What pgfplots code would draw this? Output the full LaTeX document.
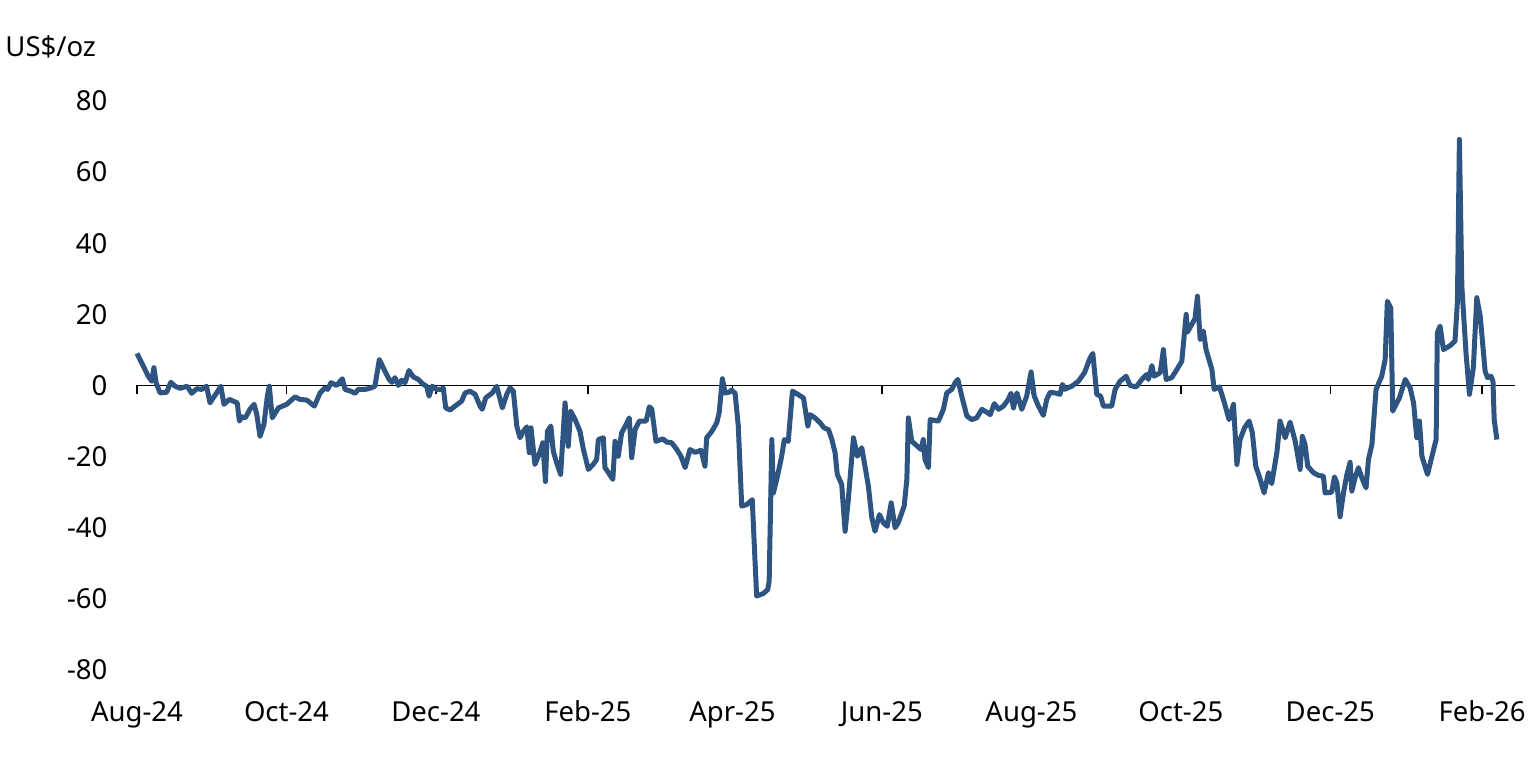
\documentclass[border=0pt]{standalone}
\usepackage{pgfplots}
\pgfplotsset{compat=1.18}
\usepackage{fontspec}
\setmainfont{Noto Sans}
\definecolor{lineblue}{RGB}{46,85,130}
\begin{document}
\fontsize{13.75}{16}\selectfont
\begin{tikzpicture}
\begin{axis}[
  at={(0,0)}, anchor=south west,
  scale only axis, width=689pt, height=284.5pt,
  xmin=0, xmax=562.4, ymin=-80, ymax=80,
  clip=false,
  axis line style={draw=none},
  major tick length=0pt,
  xtick={0,61,122,184,243,304,365,426,487,549},
  xticklabels={Aug-24,Oct-24,Dec-24,Feb-25,Apr-25,Jun-25,Aug-25,Oct-25,Dec-25,Feb-26},
  ytick={-80,-60,-40,-20,0,20,40,60,80},
  yticklabels={-80,-60,-40,-20,0,20,40,60,80},
  xticklabel style={anchor=base, yshift=-26pt, font=\fontsize{13.75}{16}\selectfont},
  yticklabel style={anchor=east, xshift=-10pt, font=\fontsize{13.75}{16}\selectfont},
  grid=none,
]
\draw[black, line width=0.75pt] (axis cs:0,0) -- (axis cs:562.4,0);
\pgfplotsinvokeforeach{0,61,122,184,243,304,365,426,487,549}{
  \draw[black, line width=0.75pt] (axis cs:#1,0) -- ++(0pt,-4.5pt);
}
\addplot[lineblue, line width=2.5pt, line join=round, no marks] coordinates {
(0,9.0) (2.6,5.4) (4.6,2.6) (6.0,1.2) (6.9,5.0) (7.8,0.8) (9.4,-2.1) (12.1,-1.9)
(13.8,0.9) (15.5,-0.2) (17.6,-0.8) (20.5,-0.2) (22.3,-2.2) (24.4,-0.9) (26.4,-1.1)
(28.4,-0.2) (29.8,-4.9) (30.9,-3.7) (32.5,-2.1) (34.2,-0.2) (35.5,-5.3) (37.7,-3.9)
(40.9,-4.9) (41.8,-10.0) (42.7,-8.8) (44.2,-9.1) (46.1,-6.7) (47.8,-5.3) (48.9,-8.2)
(50.2,-14.3) (51.8,-11.0) (53.2,-3.0) (54.0,-0.2) (55.2,-9.1) (57.7,-6.3) (61.1,-5.3)
(64.5,-3.2) (66.5,-3.9) (69.3,-4.1) (72.4,-5.8) (74.7,-2.1) (76.7,-0.7) (77.8,-1.1)
(79.2,0.8) (81.5,0.0) (83.8,1.9) (84.9,-1.1) (87.3,-1.6) (89.0,-2.2) (90.3,-1.1)
(93.1,-1.1) (95.5,-0.7) (97.1,-0.2) (98.9,7.3) (100.5,5.0) (102.9,1.7) (104.0,0.9)
(105.3,2.2) (106.7,0.0) (108.0,1.5) (109.4,0.8) (111.0,4.2) (112.8,2.4) (114.8,1.7)
(116.9,0.3) (118.2,-0.2) (119.2,-3.0) (120.5,-0.2) (122.3,-1.1) (124.1,-1.1) (125.0,-0.7)
(126.0,-6.3) (127.8,-6.9) (129.8,-5.8) (132.5,-4.4) (133.9,-2.1) (135.9,-1.6) (138.0,-2.5)
(140.0,-5.8) (140.9,-6.7) (142.3,-3.5) (145.0,-2.1) (146.8,-0.2) (148.2,-3.9) (149.1,-6.3)
(150.9,-2.5) (152.2,-0.7) (153.6,-1.6) (155.0,-11.4) (156.3,-14.7) (157.7,-12.9) (159.1,-11.6)
(160.1,-18.9) (160.8,-11.9) (162.4,-22.2) (163.8,-19.9) (165.2,-17.1) (165.6,-16.1) (166.7,-27.0)
(167.5,-12.9) (168.9,-11.4) (169.9,-18.5) (171.3,-21.8) (172.9,-25.0) (174.7,-4.9) (176.0,-17.1)
(177.0,-7.2) (178.8,-9.6) (180.8,-12.9) (182.2,-18.0) (184.2,-23.6) (186.2,-22.2) (187.6,-20.8)
(188.3,-15.2) (190.3,-14.7) (191.0,-23.1) (192.4,-24.5) (194.2,-26.4) (195.1,-15.7) (196.4,-19.9)
(197.8,-13.3) (199.6,-11.0) (200.9,-9.1) (201.9,-20.3) (203.3,-12.4) (205.0,-10.0) (207.8,-10.0)
(209.1,-6.0) (210.1,-6.7) (211.8,-15.7) (214.6,-15.0) (216.2,-15.9) (218.2,-16.1) (220.3,-18.0)
(222.0,-19.9) (223.7,-23.1) (225.7,-18.0) (227.8,-18.8) (230.2,-18.2) (231.8,-22.7) (232.5,-14.7)
(234.6,-12.9) (236.6,-10.5) (237.6,-7.7) (238.9,1.9) (240.0,-2.1) (241.6,-1.9) (242.7,-1.3)
(244.1,-2.2) (245.4,-11.4) (246.8,-33.9) (248.9,-33.5) (251.1,-32.1) (252.2,-48.9) (252.9,-59.2)
(255.6,-58.5) (257.4,-57.4) (258.0,-55.0) (259.1,-15.2) (259.7,-30.2) (261.1,-26.4) (263.1,-19.9)
(264.2,-15.2) (265.8,-15.7) (267.5,-1.6) (269.7,-2.5) (272.0,-3.5) (273.8,-11.4) (274.7,-8.2)
(276.7,-9.1) (278.8,-10.5) (280.4,-11.9) (282.2,-12.4) (283.6,-15.2) (284.9,-18.9) (285.8,-25.0)
(287.6,-27.8) (289.0,-41.0) (290.3,-32.1) (292.4,-14.7) (294.0,-19.9) (295.8,-17.5) (297.1,-22.7)
(298.5,-28.3) (299.9,-37.2) (301.2,-41.0) (303.0,-36.3) (304.6,-38.6) (306.2,-39.6) (307.8,-33.0)
(309.4,-40.0) (310.7,-38.6) (313.1,-33.9) (314.2,-26.4) (314.8,-9.1) (316.2,-15.7) (318.2,-16.9)
(320.0,-18.0) (320.9,-15.2) (321.6,-20.8) (323.0,-23.1) (323.7,-9.6) (327.1,-10.0) (329.1,-6.7)
(330.5,-2.1) (332.5,-1.1) (333.9,0.8) (335.0,1.7) (336.6,-3.0) (338.7,-8.6) (340.7,-9.6)
(342.7,-9.1) (344.8,-6.7) (346.8,-7.5) (348.2,-8.2) (349.9,-5.1) (351.6,-6.7) (353.6,-5.8)
(355.6,-3.9) (356.7,-2.2) (357.7,-6.3) (359.1,-2.1) (361.1,-6.7) (363.1,-3.0) (364.9,3.8)
(366.2,-3.0) (367.9,-5.8) (369.9,-8.4) (371.3,-3.9) (372.7,-1.9) (375.4,-2.2) (376.7,-2.5)
(377.7,0.3) (378.5,-1.1) (381.5,-0.2) (384.2,1.2) (386.7,3.6) (389.0,7.8) (390.1,9.0)
(391.7,-2.5) (393.3,-3.0) (394.4,-5.8) (397.8,-5.8) (399.2,-1.1) (401.2,1.2) (403.7,2.6)
(405.3,0.0) (407.8,-0.4) (410.1,1.7) (412.1,3.1) (412.8,1.7) (414.2,5.6) (415.1,2.6)
(417.6,3.6) (418.9,10.1) (420.0,1.7) (422.3,2.2) (424.4,4.5) (426.4,6.8) (428.2,20.0)
(428.7,15.0) (430.5,17.2) (431.8,18.8) (432.8,25.1) (433.9,12.9) (435.2,15.3) (436.3,10.1)
(438.7,4.5) (439.6,-1.1) (441.8,-0.4) (443.8,-4.9) (445.7,-9.6) (447.5,-5.3) (448.9,-22.2)
(450.2,-15.2) (452.0,-11.9) (453.9,-10.0) (455.2,-13.3) (456.6,-22.7) (458.4,-26.4) (460.0,-30.2)
(461.8,-24.5) (463.1,-27.6) (465.2,-18.9) (466.5,-10.0) (468.6,-14.7) (470.6,-10.3) (472.7,-15.7)
(474.7,-23.6) (475.6,-14.3) (476.7,-16.6) (477.8,-22.7) (480.1,-24.5) (482.2,-25.3) (484.2,-25.5)
(484.9,-30.2) (487.6,-30.0) (488.7,-25.7) (489.7,-27.4) (491.0,-36.9) (492.4,-30.2) (493.8,-25.0)
(495.1,-21.6) (495.8,-29.7) (497.1,-26.0) (498.5,-23.1) (499.9,-26.0) (501.6,-28.8) (502.6,-20.8)
(504.0,-16.6) (505.7,-1.1) (508.0,2.6) (509.4,7.3) (510.3,23.7) (511.7,21.8) (512.5,-7.2)
(515.2,-3.5) (517.6,1.7) (519.6,-0.7) (521.0,-4.9) (522.3,-14.7) (523.4,-10.0) (524.4,-19.9)
(526.7,-25.0) (528.5,-19.9) (530.2,-15.2) (530.7,14.8) (531.8,16.7) (533.2,10.1) (535.9,11.2)
(537.9,12.5) (538.9,23.7) (539.7,69.2) (540.7,27.9) (542.4,9.2) (543.8,-2.5) (545.4,5.0)
(546.8,24.7) (548.2,19.5) (550.2,4.0) (551.2,2.2) (552.6,2.6) (553.4,1.2) (553.9,-9.6)
(555.0,-15.2)
};
\end{axis}
\node[anchor=base west, inner sep=0pt] at (-66pt,306.5pt) {US\$/oz};
\path[use as bounding box] (-68.5pt,-44pt) rectangle (700.5pt,335pt);
\end{tikzpicture}
\end{document}
